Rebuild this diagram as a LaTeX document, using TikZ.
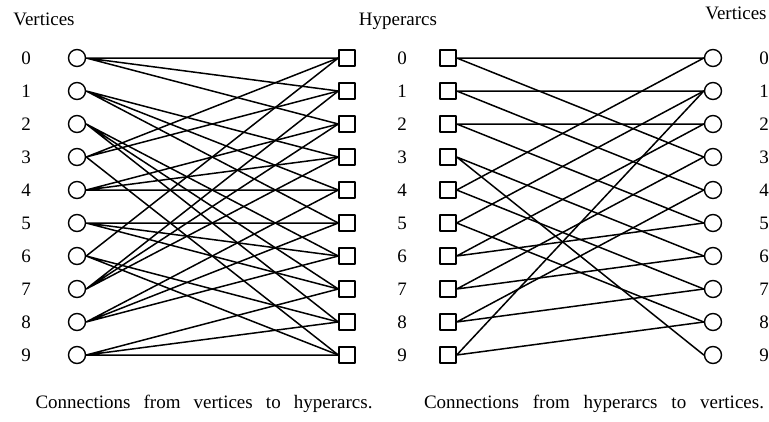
\documentclass[tikz,border=0pt]{standalone}
\usepackage{fontspec}
\setmainfont{Liberation Serif}
\begin{document}
\begin{tikzpicture}[x=1pt,y=-1pt,line join=round,line cap=round,font=\fontsize{19}{22}\selectfont,
	dinh/.style={draw,circle,line width=1.4pt,minimum size=17pt,inner sep=0pt},
	cung/.style={draw,rectangle,line width=1.4pt,minimum size=16pt,inner sep=0pt},
	noi/.style={line width=1.5pt}]
	\useasboundingbox (0,0) rectangle (769,421);
	\newcommand{\hangdinh}[2]{
		\node (st#1) at (26,#2) {#1};
		\node[dinh] (vt#1) at (77,#2) {};
		\node[cung] (ht#1) at (347,#2) {};
		\node (sg#1) at (402,#2) {#1};
		\node[cung] (hp#1) at (448,#2) {};
		\node[dinh] (vp#1) at (713,#2) {};
		\node (sp#1) at (764,#2) {#1};
	}
	\newcommand{\noitrai}[4]{
		\draw[noi] (vt#1.east) -- (ht#2.west) (vt#1.east) -- (ht#3.west) (vt#1.east) -- (ht#4.west);
	}
	\newcommand{\noiphai}[3]{
		\draw[noi] (hp#1.east) -- (vp#2.west) (hp#1.east) -- (vp#3.west);
	}
	% Tiêu đề
	\node (tdtrai) at (44,19) {Vertices};
	\node (tdgiua) at (398,21) {Hyperarcs};
	\node (tdphai) at (736,13) {Vertices};
	% Các hàng
	\hangdinh{0}{58}
	\hangdinh{1}{91}
	\hangdinh{2}{124}
	\hangdinh{3}{157}
	\hangdinh{4}{190}
	\hangdinh{5}{223}
	\hangdinh{6}{256}
	\hangdinh{7}{289}
	\hangdinh{8}{322}
	\hangdinh{9}{355}
	% Đỉnh -> cung
	\noitrai{0}{0}{1}{2}
	\noitrai{1}{3}{4}{5}
	\noitrai{2}{6}{7}{8}
	\noitrai{3}{9}{0}{1}
	\noitrai{4}{2}{3}{4}
	\noitrai{5}{5}{6}{7}
	\noitrai{6}{8}{9}{0}
	\noitrai{7}{1}{2}{3}
	\noitrai{8}{4}{5}{6}
	\noitrai{9}{7}{8}{9}
	% Cung -> đỉnh
	\noiphai{0}{0}{3}
	\noiphai{1}{1}{4}
	\noiphai{2}{2}{5}
	\noiphai{3}{6}{9}
	\noiphai{4}{7}{0}
	\noiphai{5}{8}{1}
	\noiphai{6}{5}{2}
	\noiphai{7}{6}{3}
	\noiphai{8}{7}{4}
	\noiphai{9}{8}{1}
	% Chú thích
	\node (ctrai) at (204,404) {\makebox[337pt][s]{Connections from vertices to hyperarcs.}};
	\node (cphai) at (594,404) {\makebox[340pt][s]{Connections from hyperarcs to vertices.}};
\end{tikzpicture}
\end{document}
